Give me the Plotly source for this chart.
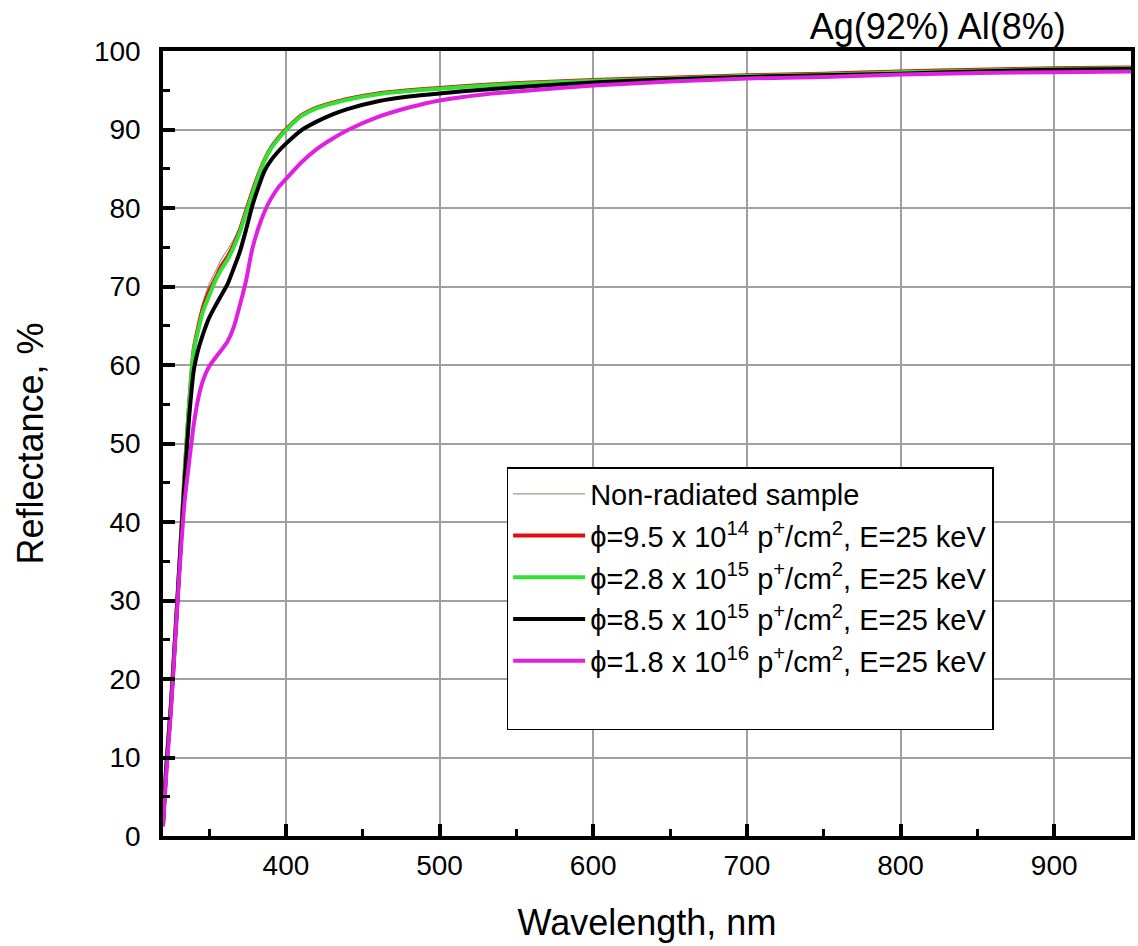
import plotly.graph_objects as go

wavelength = [320, 322, 325, 328, 331, 334, 337, 340, 343, 346, 350, 354, 358, 362, 366,
              370, 374, 378, 382, 386, 390, 395, 400, 410, 420, 430, 440, 460, 480, 500,
              530, 560, 600, 650, 700, 750, 800, 850, 900, 950]

r_nonrad = [1.6, 8.6, 16.5, 26.0, 36.0, 46.3, 55.2, 62.2, 65.3, 68.0, 70.3, 71.9, 73.5, 74.7, 76.0,
            77.6, 79.9, 82.2, 84.3, 86.2, 87.7, 89.0, 90.1, 91.9, 92.9, 93.5, 94.0, 94.7, 95.1, 95.4,
            95.8, 96.1, 96.4, 96.7, 96.9, 97.1, 97.4, 97.6, 97.8, 97.9]

r_95e14 = [1.5, 8.5, 16.4, 25.8, 35.8, 46.1, 55.1, 62.0, 64.9, 67.3, 69.4, 71.0, 72.6, 73.8, 75.3,
           77.2, 79.6, 82.0, 84.2, 86.1, 87.6, 88.9, 90.0, 91.8, 92.8, 93.4, 93.9, 94.6, 95.0, 95.3,
           95.7, 96.0, 96.3, 96.6, 96.9, 97.1, 97.4, 97.6, 97.8, 97.9]

r_28e15 = [1.5, 8.5, 16.3, 25.7, 35.5, 45.8, 55.0, 61.8, 64.5, 66.8, 68.8, 70.7, 72.2, 73.4, 75.0,
           76.9, 79.3, 81.7, 84.0, 86.0, 87.5, 88.8, 89.9, 91.7, 92.7, 93.3, 93.8, 94.5, 94.9, 95.2,
           95.6, 95.9, 96.2, 96.5, 96.8, 97.0, 97.3, 97.5, 97.7, 97.8]

r_85e15 = [1.5, 8.3, 16.0, 25.5, 35.3, 45.0, 53.3, 59.3, 62.0, 63.9, 66.0, 67.5, 68.9, 70.3, 72.3,
           74.4, 77.2, 80.2, 82.6, 84.7, 86.0, 87.2, 88.2, 89.9, 91.0, 91.9, 92.6, 93.6, 94.2, 94.6,
           95.1, 95.5, 96.0, 96.4, 96.7, 96.9, 97.1, 97.4, 97.6, 97.7]

r_18e16 = [1.2, 7.5, 15.5, 25.0, 34.5, 42.5, 47.6, 52.4, 55.8, 58.0, 59.8, 60.9, 61.9, 63.0, 64.8,
           67.6, 70.7, 74.7, 77.4, 79.5, 81.1, 82.6, 83.7, 85.8, 87.5, 88.8, 89.9, 91.6, 92.8, 93.7,
           94.5, 95.0, 95.6, 96.1, 96.5, 96.7, 97.0, 97.2, 97.3, 97.4]

series_names = [
    "Non-radiated sample",
    "\u03d5=9.5 x 10<sup>14</sup> p<sup>+</sup>/cm<sup>2</sup>, E=25 keV",
    "\u03d5=2.8 x 10<sup>15</sup> p<sup>+</sup>/cm<sup>2</sup>, E=25 keV",
    "\u03d5=8.5 x 10<sup>15</sup> p<sup>+</sup>/cm<sup>2</sup>, E=25 keV",
    "\u03d5=1.8 x 10<sup>16</sup> p<sup>+</sup>/cm<sup>2</sup>, E=25 keV",
]
series_values = [r_nonrad, r_95e14, r_28e15, r_85e15, r_18e16]
series_colors = ["#8c7a70", "#dd1111", "#33e033", "#000000", "#e020e0"]
series_widths = [1, 4, 4, 4, 4]

x_ticks = [400, 500, 600, 700, 800, 900]
y_ticks = [0, 10, 20, 30, 40, 50, 60, 70, 80, 90, 100]

FONT = "Arial, 'Liberation Sans', sans-serif"

fig = go.Figure()
for i, (name, vals, col, w) in enumerate(zip(series_names, series_values, series_colors, series_widths)):
    fig.add_trace(go.Scatter(x=wavelength, y=vals, mode="lines", name=name, legendgroup=f"g{i}",
                             line=dict(color=col, width=w, shape="spline", smoothing=0.6)))

# empty legend row (the original legend box has a blank line at the bottom)
fig.add_trace(go.Scatter(x=[None], y=[None], mode="lines", name=" ", legendgroup="blank",
                         line=dict(color="rgba(0,0,0,0)", width=0), hoverinfo="skip"))

axis_common = dict(
    showline=True, linecolor="black", linewidth=3.5, mirror=True,
    showgrid=True, gridcolor="#a0a0a0", gridwidth=1.5,
    ticks="inside", ticklen=12, tickwidth=3.5, tickcolor="black",
    tickfont=dict(family=FONT, size=28, color="black"),
    zeroline=False,
)

fig.update_layout(
    width=1138, height=946,
    margin=dict(l=163, r=3, t=51, b=110),
    paper_bgcolor="white", plot_bgcolor="white",
    font=dict(family=FONT, color="black"),
    title=dict(text="Ag(92%) Al(8%)", x=0.824, xanchor="center", xref="container",
               y=0.972, yanchor="middle", font=dict(family=FONT, size=36, color="black")),
    xaxis=dict(range=[320, 950], tickvals=x_ticks,
               minor=dict(ticks="inside", ticklen=7, tickwidth=3, tickcolor="black", dtick=50, tick0=0, showgrid=False),
               title=dict(text="Wavelength, nm", font=dict(family=FONT, size=36), standoff=30),
               ticklabelstandoff=2, **axis_common),
    yaxis=dict(range=[0, 100], tickvals=y_ticks,
               minor=dict(ticks="inside", ticklen=7, tickwidth=3, tickcolor="black", dtick=5, tick0=0, showgrid=False),
               title=dict(text="Reflectance, %", font=dict(family=FONT, size=36), standoff=40),
               ticklabelstandoff=13, **axis_common),
    legend=dict(x=0.355, y=0.47, xanchor="left", yanchor="top",
                bgcolor="white", bordercolor="black", borderwidth=1.5,
                font=dict(family=FONT, size=29, color="black"),
                itemwidth=72, tracegroupgap=1, traceorder="grouped"),
    showlegend=True,
)

fig.write_html("out.html")
